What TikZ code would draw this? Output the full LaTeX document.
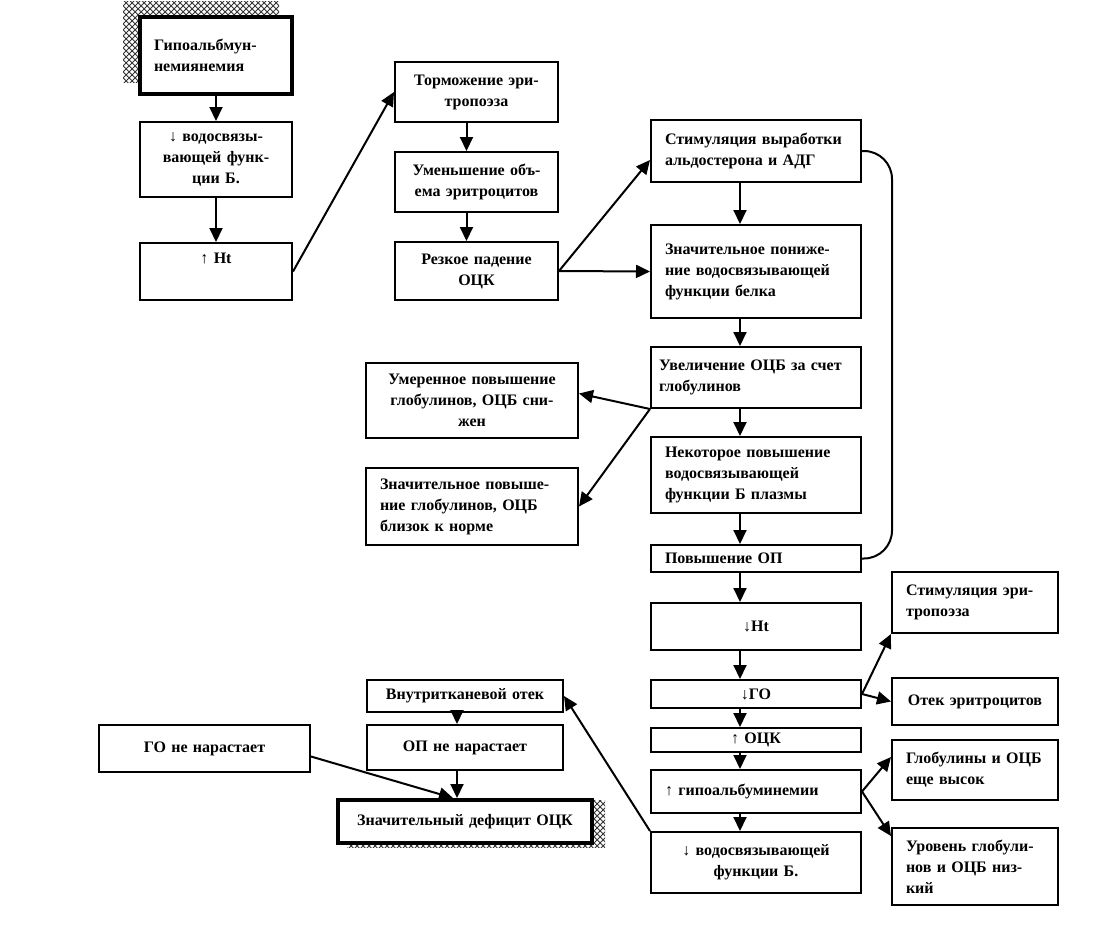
\documentclass[tikz,border=0pt]{standalone}
\usepackage{fontspec}
\setmainfont{Liberation Serif}
\usetikzlibrary{arrows.meta, patterns, backgrounds}

\begin{document}
\begin{tikzpicture}[x=0.5pt, y=-0.5pt,
    box/.style={draw, line width=1pt, fill=white, inner xsep=7pt, inner ysep=1pt,
        font={\bfseries\fontsize{8}{10.5}\selectfont}},
    lbox/.style={box, align=left},
    cbox/.style={box, align=center},
    arr/.style={-{Triangle[length=7pt,width=6.5pt]}, line width=1pt}]
    \useasboundingbox (0,0) rectangle (1094,933);

    % left column
    \node[lbox, line width=2pt, text width=62pt, minimum height=38.5pt] (hypo) at (216,55.5) {Гипоальбмун-\\немиянемия};
    \node[cbox, text width=62pt, minimum height=37.5pt] (vod) at (216,159.5) {↓ водосвязы-\\вающей функ-\\ции Б.};
    \node[cbox, text width=62pt, minimum height=28.5pt, text height=6pt, text depth=14.5pt] (htup) at (216,271.5) {↑ Ht};

    % second column
    \node[cbox, text width=67.5pt, minimum height=30pt] (torm) at (476.5,92) {Торможение эри-\\тропоэза};
    \node[cbox, text width=67.5pt, minimum height=30pt] (umen) at (476.5,182) {Уменьшение объ-\\ема эритроцитов};
    \node[cbox, text width=67.5pt, minimum height=29pt] (rezk) at (476.5,271) {Резкое падение\\ОЦК};

    % main column
    \node[lbox, text width=91pt, minimum height=31pt] (aldo) at (756,151) {Стимуляция выработки\\альдостерона и АДГ};
    \node[lbox, text width=91pt, minimum height=46.5pt] (znach) at (756,271.5) {Значительное пониже-\\ние водосвязывающей\\функции белка};
    \node[lbox, text width=97pt, inner xsep=4pt, minimum height=30.5pt] (uvel) at (756,377.5) {Увеличение ОЦБ за счет\\глобулинов};
    \node[lbox, text width=91pt, minimum height=38pt] (nekot) at (756,475) {Некоторое повышение\\водосвязывающей\\функции Б плазмы};
    \node[lbox, text width=91pt, minimum height=13.5pt] (opup) at (756,558.5) {Повышение ОП};
    \node[cbox, text width=91pt, minimum height=23.5pt] (htdown) at (756,626.5) {↓Ht};
    \node[cbox, text width=91pt, minimum height=14pt] (godown) at (756,694) {↓ГО};
    \node[cbox, text width=91pt, minimum height=12pt, inner ysep=0pt] (ockup) at (756,740) {↑ ОЦК};
    \node[lbox, text width=91pt, minimum height=21.5pt] (hypoup) at (756,791.5) {↑ гипоальбуминемии};
    \node[cbox, text width=91pt, minimum height=30.5pt] (voddown) at (756,862.5) {↓ водосвязывающей\\функции Б.};

    % globulins
    \node[cbox, text width=92pt, minimum height=37.5pt] (umer) at (472,400.5) {Умеренное повышение\\глобулинов, ОЦБ сни-\\жен};
    \node[lbox, text width=92pt, minimum height=38.5pt] (znachglob) at (472,506.5) {Значительное повыше-\\ние глобулинов, ОЦБ\\близок к норме};

    % right column
    \node[lbox, text width=69pt, minimum height=30.5pt] (stim) at (975,602.5) {Стимуляция эри-\\тропоэза};
    \node[cbox, text width=69pt, minimum height=23.5pt] (otek) at (975,701.5) {Отек эритроцитов};
    \node[lbox, text width=69pt, minimum height=30pt] (glob) at (975,770) {Глобулины и ОЦБ\\еще высок};
    \node[lbox, text width=69pt, minimum height=38.5pt] (urov) at (975,866.5) {Уровень глобули-\\нов и ОЦБ низ-\\кий};

    % bottom left
    \node[cbox, text width=84pt, minimum height=16pt] (vnutr) at (465,696) {Внутритканевой отек};
    \node[cbox, text width=84pt, minimum height=22.5pt] (opne) at (465,747.5) {ОП не нарастает};
    \node[cbox, text width=91.5pt, minimum height=23.5pt] (gone) at (204.5,748.5) {ГО не нарастает};
    \node[cbox, line width=2pt, text width=113pt, minimum height=21.5pt] (defic) at (465,821.5) {Значительный дефицит ОЦК};

    \begin{scope}[on background layer]
        \fill[pattern=crosshatch, pattern color=black!80] ([shift={(-15,-14)}]hypo.north west) rectangle ([shift={(-15,-14)}]hypo.south east);
        \fill[pattern=crosshatch, pattern color=black!80] ([shift={(11,2)}]defic.north west) rectangle ([shift={(11,2)}]defic.south east);
    \end{scope}

    \draw[arr] (hypo) -- (vod);
    \draw[arr] (vod) -- (htup);
    \draw[arr] (htup.east) -- (torm.west);
    \draw[arr] ([xshift=-5pt]torm.south) -- ([xshift=-5pt]umen.north);
    \draw[arr] ([xshift=-5pt]umen.south) -- ([xshift=-5pt]rezk.north);
    \draw[arr] (rezk.east) -- ([yshift=-4.5pt]aldo.west);
    \draw[arr] (rezk.east) -- (znach.west);
    \draw[arr] ([xshift=-8pt]aldo.south) -- ([xshift=-8pt]znach.north);
    \draw[arr] ([xshift=-8pt]znach.south) -- ([xshift=-8pt]uvel.north);
    \draw[arr] ([xshift=-8pt]uvel.south) -- ([xshift=-8pt]nekot.north);
    \draw[arr] ([xshift=-8pt]nekot.south) -- ([xshift=-8pt]opup.north);
    \draw[arr] ([xshift=-8pt]opup.south) -- ([xshift=-8pt]htdown.north);
    \draw[arr] ([xshift=-8pt]htdown.south) -- ([xshift=-8pt]godown.north);
    \draw[arr] ([xshift=-8pt]godown.south) -- ([xshift=-8pt]ockup.north);
    \draw[arr] ([xshift=-8pt]ockup.south) -- ([xshift=-8pt]hypoup.north);
    \draw[arr] ([xshift=-8pt]hypoup.south) -- ([xshift=-8pt]voddown.north);
    \draw[line width=1pt, rounded corners=14pt] (aldo.east) -- ++(30,0) |- (opup.east);
    \draw[arr] (uvel.south west) -- ([yshift=3.5pt]umer.east);
    \draw[arr] (uvel.south west) -- (znachglob.east);
    \draw[arr] (godown.east) -- (stim.south west);
    \draw[arr] (godown.east) -- (otek.west);
    \draw[arr] (hypoup.east) -- ([yshift=6.5pt]glob.west);
    \draw[arr] (hypoup.east) -- ([yshift=-4.5pt]urov.north west);
    \draw[arr] (voddown.north west) -- (vnutr.east);
    \draw[arr] ([xshift=-4pt]vnutr.south) -- ([xshift=-4pt]opne.north);
    \draw[arr] ([xshift=-4pt]opne.south) -- ([xshift=-4pt]defic.north);
    \draw[arr] ([yshift=-4pt]gone.east) -- ([xshift=-6pt]defic.north);
\end{tikzpicture}
\end{document}
